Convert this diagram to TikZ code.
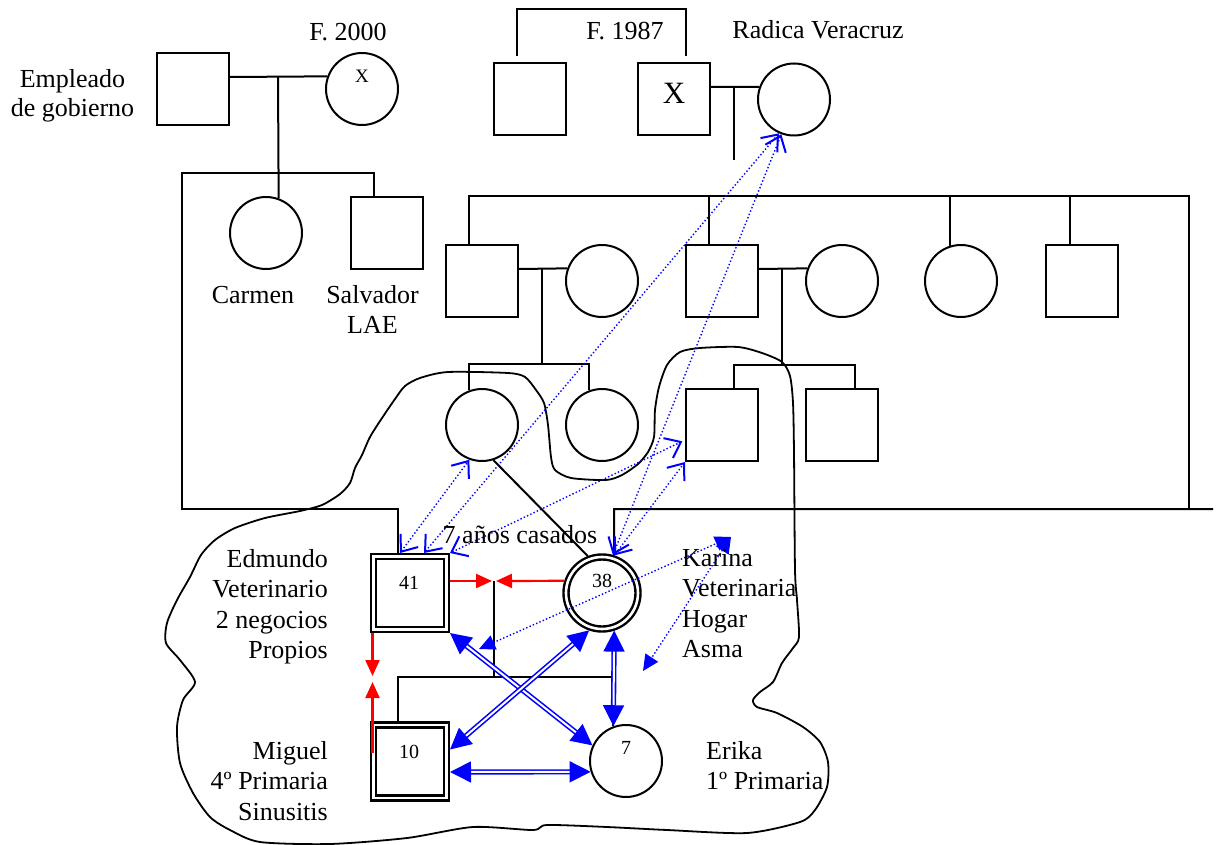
\documentclass[tikz,border=0pt]{standalone}
\usepackage{fontspec}
\setmainfont{Liberation Serif}
\usetikzlibrary{arrows.meta}
\tikzset{
  kin/.style={line width=2pt},
  male/.style={draw, rectangle, minimum size=72pt, inner sep=0pt, line width=2pt},
  female/.style={draw, circle, minimum size=72pt, inner sep=0pt, line width=2pt},
  imale/.style={draw, rectangle, minimum size=73pt, inner sep=0pt, line width=2.4pt, double=white, double distance=2.6pt, outer sep=3.5pt},
  ifemale/.style={draw, circle, minimum size=72pt, inner sep=0pt, line width=2.4pt, double=white, double distance=2.6pt, outer sep=3.5pt},
  lbl/.style={font=\fontsize{26}{30.5}\selectfont, inner sep=0pt},
  num/.style={font=\fontsize{20}{24}\selectfont, inner sep=0pt},
  redarr/.style={red, line width=2.2pt, arrows={-Triangle[length=16pt,width=14pt]}},
  dblarr/.style={draw=blue, double=white, double distance=2pt, line width=1.6pt, arrows={Triangle[length=21pt,width=21pt]-Triangle[length=21pt,width=21pt]}},
  dotrel/.style={blue, line width=1.4pt, dash pattern=on 1.4pt off 2.2pt, arrows={Straight Barb[length=14pt,width=22pt,line width=2pt]-Straight Barb[length=14pt,width=22pt,line width=2pt]}},
  dotfill/.style={blue, line width=1.4pt, dash pattern=on 1.4pt off 2.2pt, arrows={Triangle[length=16pt,width=15pt]-Triangle[length=16pt,width=15pt]}},
}
\begin{document}
\begin{tikzpicture}[x=1pt, y=-1pt]
\useasboundingbox (0,0) rectangle (1217,845);

% cloud outline
\draw[line width=1.8pt] plot[smooth cycle, tension=0.45] coordinates {
(260,842) (230,830) (210,817) (193,793) (180,763) (177,727) (183,700) (195,682)
(180,660) (166,643) (167,623) (177,600) (190,577) (201,555) (215,540) (235,528)
(265,518) (300,511) (322,505) (340,494) (350,483) (355,468) (362,455) (370,437)
(382,418) (395,399) (405,386) (420,378) (448,372) (508,373) (525,377) (536,390)
(544,403) (548,425) (551,457) (555,470) (571,478) (606,480) (622,475) (638,464)
(648,452) (654,437) (655,410) (659,387) (667,365) (680,352) (700,348) (738,347)
(762,353) (782,362) (790,376) (793,403) (794,453) (795,570) (797,600) (799,637)
(793,648) (782,663) (773,682) (760,692) (753,700) (757,707) (777,713) (803,727)
(820,742) (828,762) (827,787) (815,810) (800,822) (747,833) (667,830) (607,827)
(547,825) (533,830) (473,827) (407,838) (330,844)};

% persons
\node[male] (emp) at (193,89) {};
\node[female] (f2000) at (362,89) {};
\node[female] (carmen) at (266,233) {};
\node[male] (salv) at (387,233) {};
\node[male] (gp1) at (530,99.5) {};
\node[male] (gpx) at (674,99.5) {};
\node[female] (radica) at (794,99.5) {};
\node[male] (a) at (482,281) {};
\node[female] (b) at (602,281) {};
\node[male] (c) at (722,281) {};
\node[female] (d) at (842,281) {};
\node[female] (e) at (961,281) {};
\node[male] (f) at (1082,281) {};
\node[female] (g) at (482,425) {};
\node[female] (h) at (602,425) {};
\node[male] (i) at (722,425) {};
\node[male] (j) at (842,425) {};
\node[imale] (edm) at (410,593) {};
\node[ifemale] (kar) at (602,593) {};
\node[imale] (mig) at (410,761.5) {};
\node[female] (eri) at (626,761) {};

% numbers and marks
\node[num] (n41) at (409,583) {41};
\node[num] (n38) at (602,581) {38};
\node[num] (n10) at (409,752) {10};
\node[num] (n7) at (626,748) {7};
\node[font=\fontsize{19}{22}\selectfont, inner sep=0pt] (x1) at (362,76) {X};
\node[font=\fontsize{31}{36}\selectfont, inner sep=0pt] (x2) at (674,93.5) {X};

% junction coordinates
\coordinate (m1) at (278,77);
\coordinate (fl1) at (182,173);
\coordinate (fl2) at (182,509);
\coordinate (fl3) at (398,509);
\coordinate (gb2) at (686,9);
\coordinate (m2) at (734,87);
\coordinate (m2b) at (734,160);
\coordinate (s2r) at (1189,196);
\coordinate (s2b) at (1189,509);
\coordinate (k1) at (614,509);
\coordinate (kend) at (1213,509);
\coordinate (m3) at (542,269);
\coordinate (m3b) at (542,364);
\coordinate (m4) at (782,269);
\coordinate (m4b) at (782,365);
\coordinate (m5) at (494,581);
\coordinate (m5a) at (492,581);
\coordinate (m5b) at (496,581);
\coordinate (m6) at (494,677);
\coordinate (r1) at (372.5,676);
\coordinate (r2) at (372.5,682);
\coordinate (t1) at (479,649);
\coordinate (t2) at (731,537);
\coordinate (t3) at (643,671);

% first generation, left
\draw[kin] (emp.east |- m1) -- (f2000.160);
\draw[kin] (m1) -- (carmen.70.5);
\draw[kin] ([xshift=-13pt]salv.north) -- ([xshift=-13pt]salv.north |- fl1) -- (fl1) -- (fl2) -- (fl3) -- (fl3 |- edm.north);

% first generation, right
\draw[kin] ([xshift=-13pt,yshift=6pt]gp1.north) |- (gb2) -- ([xshift=12pt,yshift=6pt]gpx.north);
\draw[kin] (gpx.east |- m2) -- (radica.160);
\draw[kin] (m2) -- (m2b);

% second generation
\draw[kin] ([xshift=-13pt]a.north) |- (s2r) -- (s2b);
\draw[kin] ([xshift=-13pt]c.north) -- ([xshift=-13pt]c.north |- s2r);
\draw[kin] (e.108) -- (e.108 |- s2r);
\draw[kin] ([xshift=-12pt]f.north) -- ([xshift=-12pt]f.north |- s2r);
\draw[kin] (kend) -- (k1) -- (kar.72);
\draw[kin] (a.east |- m3) -- (b.160);
\draw[kin] (m3) -- (m3b);
\draw[kin] (c.east |- m4) -- (d.160);
\draw[kin] (m4) -- (m4b);

% third generation
\draw[kin] (g.111) |- (m3b) -| (h.110);
\draw[kin] ([xshift=12pt]i.north) |- (m4b) -| ([xshift=13pt]j.north);
\draw[kin] (g.288) -- (kar.111);

% nuclear family
\draw[kin] (m5) -- (m6);
\draw[kin] ([xshift=-12pt]mig.north) |- (m6) -| (eri.110);
\draw[redarr] ([yshift=12pt]edm.east) -- (m5a);
\draw[redarr] (kar.162) -- (m5b);
\draw[redarr] (r1 |- edm.south) -- (r1);
\draw[redarr] ([yshift=9pt]mig.west -| r2) -- (r2);

\draw[dblarr] (edm.south east) -- (eri.155);
\draw[dblarr] (kar.251) -- ([yshift=12pt]mig.east);
\draw[dblarr] (kar.288) -- (eri.110);
\draw[dblarr] ([yshift=-10.5pt]mig.east) -- (eri.197);

% dotted relations
\draw[dotrel] ([xshift=-10pt]edm.north) -- (g.250);
\draw[dotrel] ([xshift=14pt]edm.north) -- (radica.246);
\draw[dotrel, shorten >=3pt] (edm.north east) -- ([yshift=-15pt]i.west);
\draw[dotrel] (kar.72) -- (i.south west);
\draw[dotrel] (kar.74) -- (radica.250);
\draw[dotfill] (t1) -- (t2);
\draw[dotfill] (t2) -- (t3);

% texts
\node[lbl, anchor=north, align=center, font=\fontsize{26}{29}\selectfont] (templ) at (72.5,69) {Empleado\\de gobierno};
\node[lbl, anchor=base] (tf2000) at (348,41) {F. 2000};
\node[lbl, anchor=base] (tf1987) at (625,40) {F. 1987};
\node[lbl, anchor=base] (tradica) at (818,39) {Radica Veracruz};
\node[lbl, anchor=base] (tcarmen) at (253,303) {Carmen};
\node[lbl, anchor=north, align=center, font=\fontsize{26}{30}\selectfont] (tsalv) at (372.5,285) {Salvador\\LAE};
\node[lbl, anchor=base] (tcasados) at (520,543) {7 años casados};
\node[lbl, anchor=north east, align=right] (tedm) at (328,549) {Edmundo\\Veterinario\\2 negocios\\Propios};
\node[lbl, anchor=north east, align=right] (tmig) at (328,741) {Miguel\\4º Primaria\\Sinusitis};
\node[lbl, anchor=north west, align=left] (tkar) at (682,549) {Karina\\Veterinaria\\Hogar\\Asma};
\node[lbl, anchor=north west, align=left] (teri) at (706,741) {Erika\\1º Primaria};
\end{tikzpicture}
\end{document}
